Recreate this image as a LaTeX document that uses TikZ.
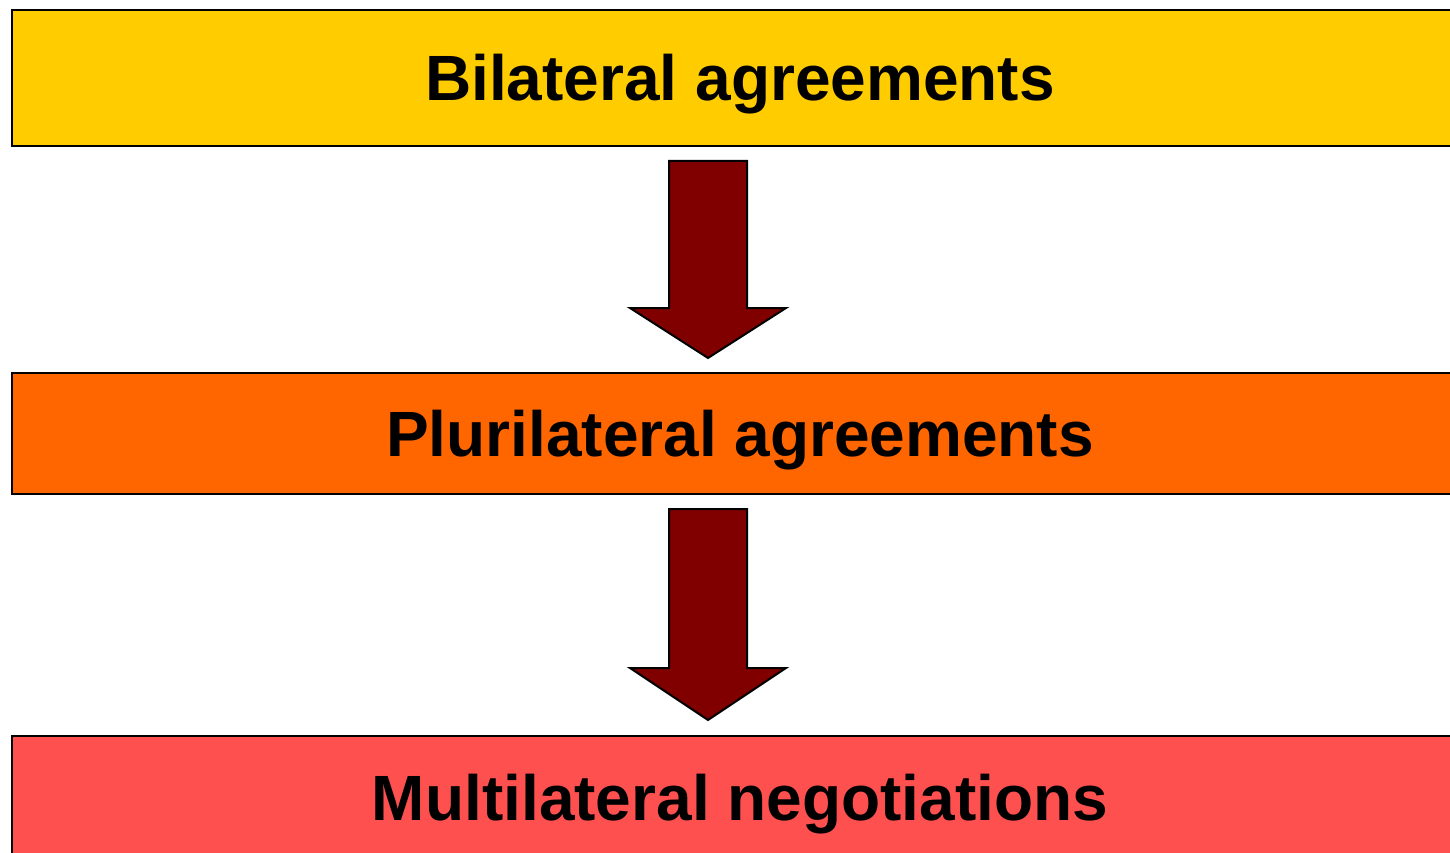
\documentclass[tikz,border=0pt]{standalone}
\usepackage{fontspec}
\setmainfont{Liberation Sans}
\definecolor{cyellow}{HTML}{FFCC00}
\definecolor{corange}{HTML}{FF6600}
\definecolor{cred}{HTML}{FF5050}
\definecolor{cdark}{HTML}{800000}
\begin{document}
\begin{tikzpicture}[x=1pt,y=-1pt,
  box/.style={draw=black,line width=2pt,minimum width=1456pt,inner sep=0pt,
    text height=45.5pt,text depth=0pt,
    font=\fontsize{64}{70}\selectfont\bfseries},
  blockarrow/.style={draw=black,line width=2pt,fill=cdark,line join=miter}]
\useasboundingbox (0,0) rectangle (1450,853);
\node[box,fill=cyellow,minimum height=136pt] (b1) at (740,78) {Bilateral agreements};
\node[box,fill=corange,minimum height=121pt] (b2) at (740,433.5) {Plurilateral agreements};
\node[box,fill=cred,minimum height=124pt] (b3) at (740,798) {Multilateral negotiations};
\draw[blockarrow] (669,161) -- (747,161) -- (747,308) -- (786,308) -- (708,358) -- (630,308) -- (669,308) -- cycle;
\draw[blockarrow] (669,509) -- (747,509) -- (747,668) -- (786,668) -- (708,720) -- (630,668) -- (669,668) -- cycle;
\end{tikzpicture}
\end{document}
